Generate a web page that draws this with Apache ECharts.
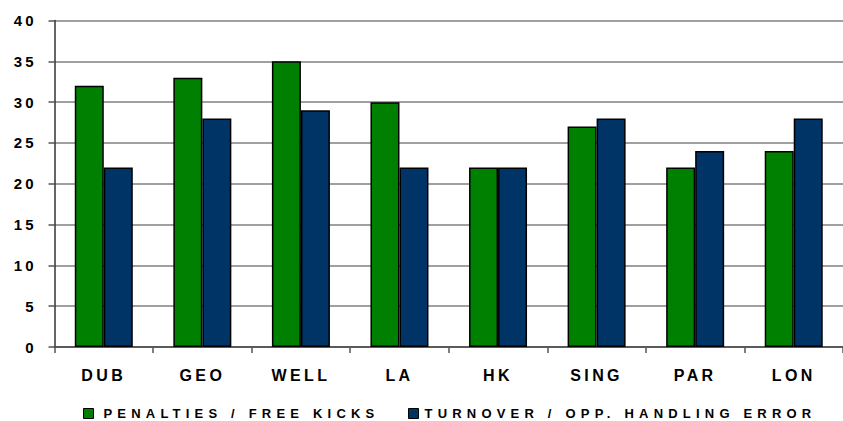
<!DOCTYPE html>
<html>
<head>
<meta charset="utf-8">
<script src="https://cdn.jsdelivr.net/npm/echarts@6/dist/echarts.min.js"></script>
<style>
  html, body { margin: 0; padding: 0; background: #fff; }
  #chart { width: 843px; height: 421px; }
  #chart text[style*="15px"] { letter-spacing: 3px; }
  #chart text[style*="16px"] { letter-spacing: 3.4px; }
  #chart text[style*="13px"] { letter-spacing: 5.2px; }
</style>
</head>
<body>
<div id="chart"></div>
<script>
const categories = ['DUB', 'GEO', 'WELL', 'LA', 'HK', 'SING', 'PAR', 'LON'];
const penalties = [32, 33, 35, 30, 22, 27, 22, 24];
const turnovers = [22, 28, 29, 22, 22, 28, 24, 28];
const seriesNames = ['PENALTIES / FREE KICKS', 'TURNOVER / OPP. HANDLING ERROR'];
const yTicks = { min: 0, max: 40, interval: 5 };

const chart = echarts.init(document.getElementById('chart'), null, { renderer: 'svg' });
const font = '"Liberation Sans", Arial, sans-serif';
const legendText = { fontFamily: font, fontWeight: 'bold', fontSize: 13, color: '#000', lineHeight: 13 };

chart.setOption({
  animation: false,
  backgroundColor: '#fff',
  grid: { left: 54.5, top: 20.5, width: 800, height: 326.5, containLabel: false },
  legend: [
    {
      data: [{ name: seriesNames[0], icon: 'rect' }],
      left: 80, top: 404, itemWidth: 10, itemHeight: 10, padding: 3,
      selectedMode: false,
      itemStyle: { borderColor: '#000', borderWidth: 1 },
      textStyle: Object.assign({ padding: [0, 0, 0, 5] }, legendText)
    },
    {
      data: [{ name: seriesNames[1], icon: 'rect' }],
      left: 405, top: 404, itemWidth: 10, itemHeight: 10, padding: 3,
      selectedMode: false,
      itemStyle: { borderColor: '#000', borderWidth: 1 },
      textStyle: Object.assign({ padding: [0, 0, 0, 1] }, legendText)
    }
  ],
  xAxis: {
    type: 'category',
    data: categories,
    axisLine: { show: true, lineStyle: { color: '#444', width: 1.5 } },
    axisTick: { show: true, length: 6, alignWithLabel: false, lineStyle: { color: '#555', width: 1.5 } },
    axisLabel: { margin: 20, fontFamily: font, fontWeight: 'bold', fontSize: 16, color: '#000' },
    splitLine: { show: false }
  },
  yAxis: {
    type: 'value',
    min: yTicks.min, max: yTicks.max, interval: yTicks.interval,
    axisLine: { show: true, lineStyle: { color: '#333', width: 1.5 } },
    axisTick: { show: true, length: 6, lineStyle: { color: '#555', width: 1.5 } },
    axisLabel: { margin: 18, fontFamily: font, fontWeight: 'bold', fontSize: 15, color: '#000' },
    splitLine: { show: true, lineStyle: { color: '#808080', width: 1.5 } }
  },
  series: [
    {
      name: seriesNames[0], type: 'bar', data: penalties,
      barWidth: 29, barGap: '0%',
      itemStyle: { color: '#008000', borderColor: '#000', borderWidth: 1.5 }
    },
    {
      name: seriesNames[1], type: 'bar', data: turnovers,
      barWidth: 29, barGap: '0%',
      itemStyle: { color: '#003366', borderColor: '#000', borderWidth: 1.5 }
    }
  ]
});
</script>
</body>
</html>
